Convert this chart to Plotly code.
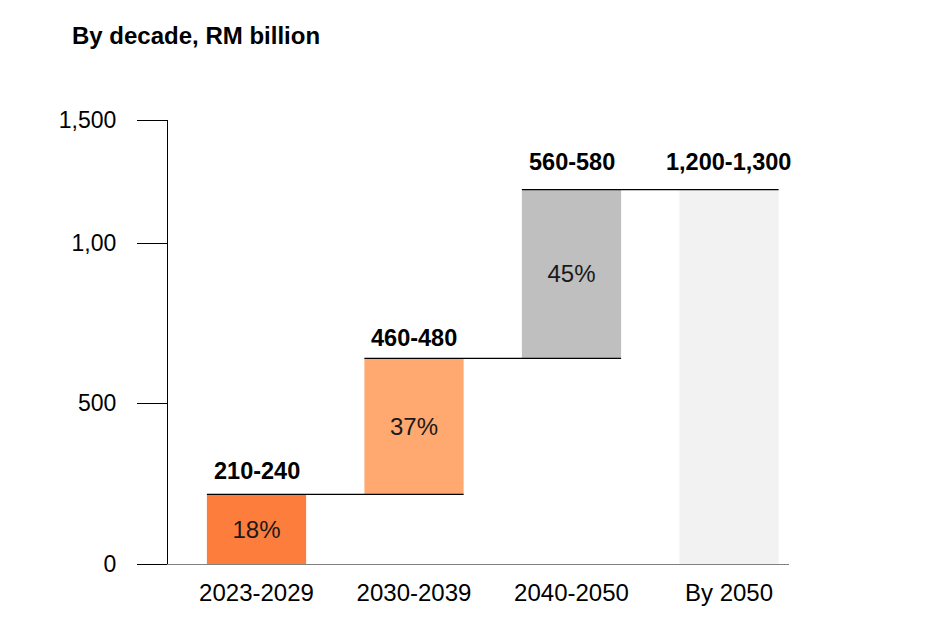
import plotly.graph_objects as go

# =========================
# DATA
# =========================

periods = ["2023-2029", "2030-2039", "2040-2050", "By 2050"]
increments = [235, 460, 570]  # RM billion
range_labels = ["210-240", "460-480", "560-580", "1,200-1,300"]
shares = ["18%", "37%", "45%", ""]

y_tickvals = [0, 543, 1083, 1500]
y_ticktext = ["0", "500", "1,00", "1,500"]

colors = ["#FD7D3C", "#FFA870", "#BFBFBF", "#F2F2F2"]

# =========================
# CUMULATIVE BASES
# =========================

bases = []
tops = []
running = 0
for inc in increments:
    bases.append(running)
    running += inc
    tops.append(running)

bar_base = bases + [0]
bar_height = increments + [running]
bar_top = tops + [running]

x_pos = list(range(len(periods)))
bar_w = 0.63
FONT = "Arial, Liberation Sans, sans-serif"

# page body has an 8px margin, so the figure is a bit smaller than the window
W, H = 917, 612

fig = go.Figure()

# =========================
# BARS
# =========================

fig.add_trace(
    go.Bar(
        x=x_pos,
        y=bar_height,
        base=bar_base,
        width=bar_w,
        marker=dict(color=colors, line=dict(width=0)),
        text=shares,
        textposition="inside",
        insidetextanchor="middle",
        constraintext="none",
        textfont=dict(family=FONT, size=24, color="#1a1a1a"),
        hoverinfo="skip",
        showlegend=False,
    )
)

# =========================
# CONNECTORS
# =========================

for i in range(len(periods) - 1):
    fig.add_trace(
        go.Scatter(
            x=[x_pos[i] - bar_w / 2, x_pos[i + 1] + bar_w / 2],
            y=[bar_top[i], bar_top[i]],
            mode="lines",
            line=dict(color="black", width=1.2),
            hoverinfo="skip",
            showlegend=False,
        )
    )

# =========================
# RANGE LABELS
# =========================

label_shift = [8, 5, 13, 13]
for i, lab in enumerate(range_labels):
    fig.add_annotation(
        x=x_pos[i],
        y=bar_top[i],
        text="<b>" + lab + "</b>",
        showarrow=False,
        yanchor="bottom",
        yshift=label_shift[i],
        font=dict(family=FONT, size=23.5, color="black"),
    )

# =========================
# LAYOUT
# =========================

fig.update_layout(
    width=W,
    height=H,
    plot_bgcolor="white",
    paper_bgcolor="white",
    margin=dict(l=160, r=136, t=112, b=56),
    font=dict(family=FONT, size=23, color="black"),
    title=dict(
        text="<b>By decade, RM billion</b>",
        font=dict(family=FONT, size=24, color="black"),
        xref="container",
        yref="container",
        x=64 / W,
        xanchor="left",
        y=1 - 28 / H,
        yanchor="middle",
    ),
    xaxis=dict(
        range=[-0.562, 3.381],
        tickvals=x_pos,
        ticktext=periods,
        tickfont=dict(size=24),
        showline=True,
        linecolor="#808080",
        linewidth=1.2,
        ticks="",
        showgrid=False,
        zeroline=False,
        ticklabelstandoff=7,
        fixedrange=True,
    ),
    yaxis=dict(
        range=[0, 1500],
        tickvals=y_tickvals,
        ticktext=y_ticktext,
        showline=True,
        linecolor="black",
        linewidth=1.2,
        ticks="outside",
        ticklen=30,
        tickcolor="black",
        tickwidth=1.2,
        showgrid=False,
        zeroline=False,
        ticklabelstandoff=16,
        fixedrange=True,
    ),
)

fig.write_html("out.html")
